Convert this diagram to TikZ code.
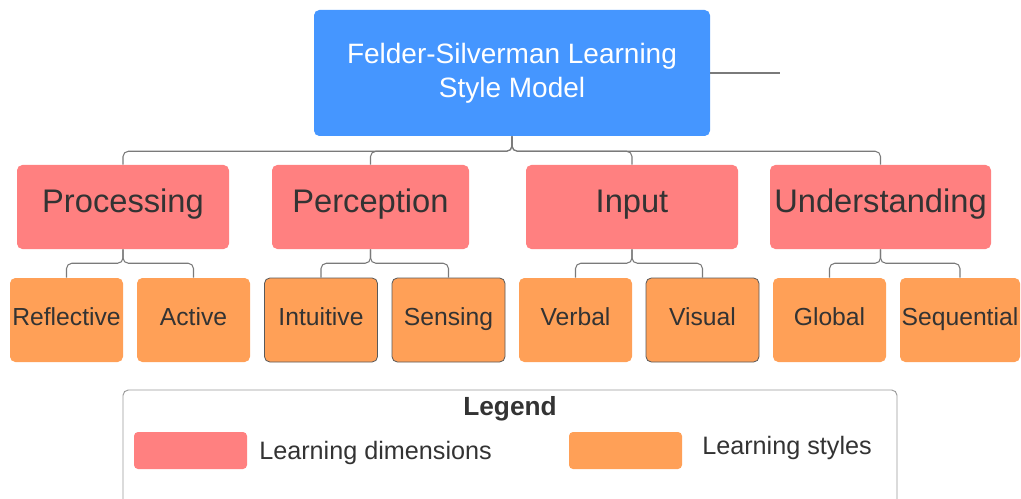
\documentclass[tikz,border=0pt]{standalone}
\usepackage{fontspec}
\setmainfont{Liberation Sans}
\definecolor{topblue}{HTML}{4596FF}
\definecolor{dimpink}{HTML}{FF8080}
\definecolor{styorange}{HTML}{FFA057}
\definecolor{txtdark}{HTML}{333333}
\definecolor{connc}{HTML}{7A7A7A}
\begin{document}
\begin{tikzpicture}[x=0.75pt,y=-0.75pt,
  topbox/.style={fill=topblue,rounded corners=4pt,minimum width=297pt,minimum height=94.5pt,text=white,font=\fontsize{21}{25.5}\selectfont,align=center,inner sep=0pt},
  dimbox/.style={fill=dimpink,rounded corners=4pt,minimum height=63pt,text=txtdark,font=\fontsize{24.5}{29}\selectfont,inner sep=0pt,text height=0.9em,text depth=0.14em},
  stybox/.style={fill=styorange,rounded corners=4pt,minimum width=84.75pt,minimum height=63pt,text=txtdark,font=\fontsize{18.5}{22}\selectfont,inner sep=0pt,text height=0.9em,text depth=0.14em},
  bordered/.style={draw=black!65,line width=0.6pt},
  conn/.style={draw=connc,line width=0.8pt,rounded corners=4pt},
  legtext/.style={text=txtdark,font=\fontsize{18.9}{22}\selectfont,inner sep=0pt}]
\useasboundingbox (0,0) rectangle (1021,499);
% top
\node[topbox] (top) at (512,73) {Felder-Silverman Learning\\Style Model};
\coordinate (stray) at (780,73);
\draw[connc,line width=0.8pt] (top.east) -- (stray);
% dimensions
\node[dimbox,minimum width=159pt] (proc) at (123,207) {Processing};
\node[dimbox,minimum width=147.75pt] (perc) at (370.5,207) {Perception};
\node[dimbox,minimum width=159pt] (inp) at (632,207) {Input};
\node[dimbox,minimum width=165.75pt] (und) at (880.5,207) {Understanding};
% styles
\node[stybox] (refl) at (66.5,320) {Reflective};
\node[stybox] (act) at (193.5,320) {Active};
\node[stybox,bordered] (intu) at (321,320) {Intuitive};
\node[stybox,bordered] (sens) at (448.5,320) {Sensing};
\node[stybox] (verb) at (575.5,320) {Verbal};
\node[stybox,bordered] (visu) at (702.5,320) {Visual};
\node[stybox] (glob) at (829.5,320) {Global};
\node[stybox,minimum width=90pt] (seq) at (960,320) {Sequential};
% connectors top
\foreach \d in {proc,perc,inp,und}
  \draw[conn] (top.south) -- ++(0,15) -| (\d.north);
% connectors dims to styles
\foreach \p/\c in {proc/refl,proc/act,perc/intu,perc/sens,inp/verb,inp/visu,und/glob,und/seq}
  \draw[conn] (\p.south) -- ++(0,14) -| (\c.north);
% legend
\draw[black!40,line width=0.7pt,rounded corners=4pt] (123,505) -- (123,390) -- (897,390) -- (897,505);
\node[legtext,font=\bfseries\fontsize{19.7}{22}\selectfont] (legt) at (510,409) {Legend};
\node[fill=dimpink,rounded corners=3pt,minimum width=84.75pt,minimum height=27.75pt,inner sep=0pt] (lsw1) at (190.5,450.5) {};
\node[legtext,anchor=west] (ltx1) at (259,453) {Learning dimensions};
\node[fill=styorange,rounded corners=3pt,minimum width=84.75pt,minimum height=27.75pt,inner sep=0pt] (lsw2) at (625.5,450.5) {};
\node[legtext,anchor=west] (ltx2) at (702,448) {Learning styles};
\end{tikzpicture}
\end{document}
